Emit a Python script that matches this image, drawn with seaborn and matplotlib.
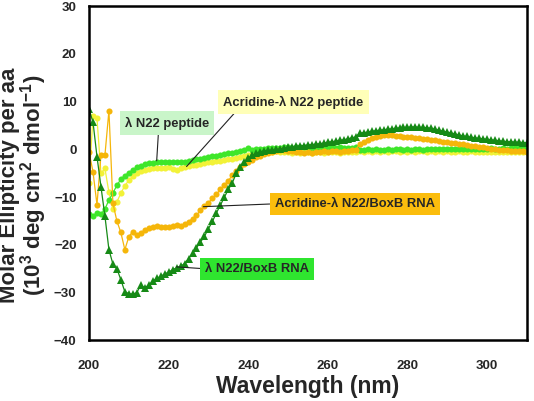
import numpy as np
import pandas as pd
import matplotlib
matplotlib.use("Agg")
import matplotlib.pyplot as plt
import seaborn as sns

wavelength = list(range(200, 311))

pep = [-13.5, -14.0, -13.3, -13.6, -12.5, -10.6, -9.2, -7.5, -6.3, -5.5,
       -4.9, -4.3, -3.8, -3.4, -3.1, -2.9, -2.8, -2.7, -2.7, -2.6,
       -2.6, -2.6, -2.7, -2.7, -2.6, -2.5, -2.3, -2.1, -2.0, -1.8,
       -1.6, -1.4, -1.3, -1.2, -1.0, -0.8, -0.7, -0.6, -0.4, -0.2,
       0.3, -0.1, 0.0, 0.1, 0.1, 0.2, 0.2, 0.3, 0.3, 0.4,
       0.4, 0.3, 0.4, 0.5, 0.4, 0.4, 0.3, 0.4, 0.3, 0.3,
       0.4, 0.3, 0.3, 0.4, 0.3, 0.3, 0.3, 0.4, -0.1, -0.1,
       0.0, -0.1, 0.0, -0.1, -0.1, 0.0, -0.1, 0.0, 0.0, -0.1,
       0.0, -0.1, 0.0, 0.0, -0.1, 0.0, 0.0, 0.1, 0.0, 0.0,
       0.1, 0.0, 0.0, 0.1, 0.0, 0.1, 0.1, 0.0, 0.1, 0.1,
       0.1, 0.2, 0.1, 0.1, 0.2, 0.1, 0.2, 0.2, 0.2, 0.2,
       0.3]

acr_pep = [-7.0, 7.0, 6.5, -5.0, -4.0, -9.0, -12.5, -11.0, -9.2, -7.6,
           -6.5, -5.6, -5.0, -4.6, -4.3, -4.1, -4.0, -4.0, -3.9, -4.0,
           -3.8, -4.1, -4.3, -4.0, -3.8, -3.5, -3.3, -3.2, -3.0, -2.9,
           -2.7, -2.6, -2.5, -2.4, -2.2, -2.1, -2.0, -1.9, -1.6, -1.4,
           -1.2, -1.0, -0.9, -0.8, -0.6, -0.5, -0.5, -0.4, -0.6, -0.5,
           -0.6, -0.7, -0.6, -0.7, -0.5, -0.6, -0.7, -0.6, -0.5, -0.7,
           -0.6, -0.5, -0.6, -0.7, -0.6, -0.5, -0.6, -0.5, -0.4, -0.5,
           -0.4, -0.5, -0.4, -0.5, -0.4, -0.5, -0.4, -0.4, -0.5, -0.4,
           -0.5, -0.4, -0.5, -0.4, -0.4, -0.5, -0.4, -0.5, -0.4, -0.5,
           -0.4, -0.5, -0.5, -0.4, -0.5, -0.5, -0.4, -0.5, -0.5, -0.6,
           -0.5, -0.5, -0.6, -0.5, -0.6, -0.5, -0.6, -0.5, -0.6, -0.6,
           -0.6]

acr_rna = [-0.5, -4.7, -11.6, -1.2, -1.2, 8.1, -11.3, -15.0, -17.4, -21.0,
           -18.3, -17.2, -18.0, -17.5, -16.9, -16.5, -16.2, -16.0, -16.3, -16.2,
           -16.2, -16.0, -15.8, -16.0, -15.6, -15.2, -14.5, -13.8, -12.8, -11.9,
           -11.2, -10.2, -9.4, -8.4, -7.4, -6.6, -5.4, -4.6, -3.8, -3.1,
           -2.6, -2.2, -1.7, -1.3, -1.0, -0.7, -0.5, -0.3, -0.2, -0.2,
           -0.3, -0.4, -0.5, -0.6, -0.7, -0.6, -0.7, -0.5, -0.6, -0.4,
           -0.5, -0.3, -0.4, -0.5, -0.3, -0.3, -0.2, -0.2, 1.2, 1.6,
           2.0, 2.3, 2.6, 2.8, 3.0, 3.0, 2.9, 2.8, 2.7, 2.6,
           2.6, 2.5, 2.4, 2.3, 2.2, 2.1, 2.0, 1.9, 1.8, 1.6,
           1.5, 1.4, 1.3, 1.2, 1.1, 1.0, 0.8, 0.7, 0.5, 0.4,
           0.2, 0.1, 0.0, -0.1, -0.2, -0.2, -0.3, -0.3, -0.4, -0.4,
           -0.5]

rna = [8.4, 5.7, -1.5, -7.8, -14.0, -21.0, -24.0, -25.0, -27.3, -29.8,
       -30.2, -30.3, -30.0, -28.4, -29.0, -28.4, -27.6, -27.0, -26.6, -26.1,
       -25.7, -25.2, -24.8, -24.5, -23.9, -22.9, -21.8, -20.6, -19.4, -18.2,
       -16.6, -15.1, -13.3, -11.7, -10.0, -8.4, -7.0, -5.0, -3.6, -2.6,
       -1.8, -1.2, -0.8, -0.5, -0.3, -0.2, -0.1, 0.0, 0.1, 0.3,
       0.4, 0.5, 0.6, 0.7, 0.8, 0.9, 1.0, 1.1, 1.2, 1.3,
       1.5, 1.6, 1.7, 1.9, 2.0, 2.2, 2.4, 2.6, 3.4, 3.5,
       3.6, 3.8, 3.9, 4.0, 4.1, 4.2, 4.3, 4.4, 4.5, 4.6,
       4.6, 4.7, 4.7, 4.6, 4.6, 4.5, 4.4, 4.2, 4.0, 3.8,
       3.6, 3.4, 3.2, 3.0, 2.8, 2.7, 2.5, 2.4, 2.3, 2.2,
       2.1, 2.0, 1.9, 1.8, 1.7, 1.6, 1.6, 1.5, 1.5, 1.4,
       1.4]

series_names = ["Acridine-λ N22 peptide", "λ N22 peptide",
                "Acridine-λ N22/BoxB RNA", "λ N22/BoxB RNA"]
series_vals = [acr_pep, pep, acr_rna, rna]
colors = {"λ N22 peptide": "#3ee62a",
          "Acridine-λ N22 peptide": "#f2f238",
          "Acridine-λ N22/BoxB RNA": "#f5b60a",
          "λ N22/BoxB RNA": "#168a16"}
markers = {"λ N22 peptide": "o", "Acridine-λ N22 peptide": "o",
           "Acridine-λ N22/BoxB RNA": "o", "λ N22/BoxB RNA": "^"}

sns.set_style("white")
plt.rcParams['font.family'] = ['Liberation Sans', 'DejaVu Sans']
plt.rcParams['font.weight'] = 'bold'
plt.rcParams['mathtext.fontset'] = 'custom'
plt.rcParams['mathtext.rm'] = 'Liberation Sans:bold'
plt.rcParams['mathtext.it'] = 'Liberation Sans:bold'
plt.rcParams['mathtext.bf'] = 'Liberation Sans:bold'

fig = plt.figure(figsize=(5.34, 4.01), dpi=100)
ax = fig.add_axes([0.1667, 0.151, 0.82, 0.834])

for name, vals in zip(series_names, series_vals):
    df = pd.DataFrame({"wl": wavelength, "val": vals})
    ms = 5.8 if markers[name] == "^" else 4.4
    sns.lineplot(data=df, x="wl", y="val", ax=ax, color=colors[name],
                 marker=markers[name], markersize=ms, markeredgewidth=0,
                 linewidth=0.9, legend=False)

ax.set_xlim(200, 310)
ax.set_ylim(-40, 30)
ax.set_xticks([200, 220, 240, 260, 280, 300])
ax.set_yticks([-40, -30, -20, -10, 0, 10, 20, 30])
for sp in ax.spines.values():
    sp.set_linewidth(1.8)
    sp.set_color("black")
ax.tick_params(direction="in", length=5, width=1.6, labelsize=9.5)
ax.tick_params(axis="x", pad=14)
ax.tick_params(axis="y", pad=9)
for lab in ax.get_xticklabels() + ax.get_yticklabels():
    lab.set_fontweight("bold")

ax.set_xlabel("Wavelength (nm)", fontsize=16.5, fontweight="bold", labelpad=2)
ax.set_ylabel("Molar Ellipticity per aa\n(10$^{3}$ deg cm$^{2}$ dmol$^{-1}$)",
              fontsize=16, fontweight="bold", linespacing=0.9)
ax.yaxis.set_label_coords(-0.092, 0.465)

fs = 9.4
ann = dict(arrowstyle="-", color="#222222", lw=0.8, shrinkA=0, shrinkB=0)
ax.annotate("λ N22 peptide", xy=(217, -2.4), xytext=(219.6, 5.5),
            ha="center", va="center", fontsize=fs, fontweight="bold",
            bbox=dict(boxstyle="square,pad=0.4", fc="#c9f5c9", ec="none"),
            arrowprops=dict(ann, relpos=(0.4, 0.0)))
ax.annotate("Acridine-λ N22 peptide", xy=(224.5, -3.6), xytext=(251.3, 9.9),
            ha="center", va="center", fontsize=fs, fontweight="bold",
            bbox=dict(boxstyle="square,pad=0.4", fc="#ffffb8", ec="none"),
            arrowprops=dict(ann, relpos=(0.11, 0.0)))
ax.annotate("Acridine-λ N22/BoxB RNA", xy=(228.7, -12.0), xytext=(266.8, -11.4),
            ha="center", va="center", fontsize=fs, fontweight="bold",
            bbox=dict(boxstyle="square,pad=0.4", fc="#fbbd0d", ec="none"),
            arrowprops=dict(ann, relpos=(0.0, 0.5)))
ax.annotate("λ N22/BoxB RNA", xy=(222, -24.6), xytext=(242.2, -25.0),
            ha="center", va="center", fontsize=fs, fontweight="bold",
            bbox=dict(boxstyle="square,pad=0.4", fc="#2fe52f", ec="none"),
            arrowprops=dict(ann, relpos=(0.0, 0.5)))

fig.savefig("out.png", dpi=100)
